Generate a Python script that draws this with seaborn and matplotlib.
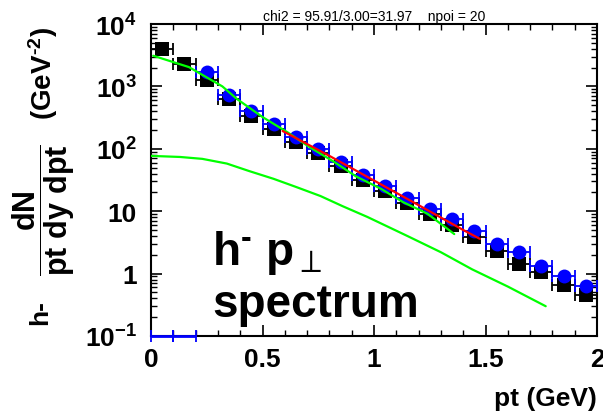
import matplotlib
matplotlib.use("Agg")
import matplotlib.pyplot as plt
import seaborn as sns
import numpy as np
import pandas as pd
from matplotlib.ticker import FixedLocator, NullFormatter, MultipleLocator

# ---- data ----
pt_black = [0.05, 0.15, 0.25, 0.35, 0.45, 0.55, 0.65, 0.75, 0.85, 0.95,
            1.05, 1.15, 1.25, 1.35, 1.45, 1.55, 1.65, 1.75, 1.85, 1.95]
y_black = [4000, 2300, 1250, 620, 340, 210, 130, 85, 53, 32,
           21, 13.5, 9.0, 6.0, 3.9, 2.3, 1.45, 1.05, 0.65, 0.45]

pt_blue = [0.25, 0.35, 0.45, 0.55, 0.65, 0.75, 0.85, 0.95, 1.05, 1.15,
           1.25, 1.35, 1.45, 1.55, 1.65, 1.75, 1.85, 1.95]
y_blue = [1700, 720, 410, 250, 155, 100, 62, 38, 25, 16,
          11, 7.5, 4.8, 3.0, 2.2, 1.3, 0.92, 0.63]

pt_blue_low = [0.05, 0.15]      # blue points at the floor of the axis
y_blue_low = [0.1, 0.1]

fit_upper_x = [0.01, 0.17, 0.32, 0.385, 0.50, 0.61, 0.71, 0.82, 0.92, 1.03, 1.13, 1.24, 1.36]
fit_upper_y = [3100, 2040, 1000, 630, 323, 186, 107, 62, 36, 23, 14, 9.1, 4.3]

fit_red_x = [0.59, 0.8, 1.0, 1.2, 1.4, 1.475]
fit_red_y = [193, 77, 31, 12.5, 5.0, 3.6]

fit_lower_x = [0.0, 0.13, 0.23, 0.34, 0.44, 0.55, 0.65, 0.76, 0.86, 0.97, 1.15, 1.30, 1.44, 1.60, 1.77]
fit_lower_y = [77, 74, 69, 58, 44, 33, 24.5, 17.5, 12, 8.1, 4.0, 2.2, 1.17, 0.62, 0.30]

x_ticks = [0, 0.5, 1, 1.5, 2]
x_ticklabels = ["0", "0.5", "1", "1.5", "2"]
y_ticks = [0.1, 1, 10, 100, 1000, 10000]
y_ticklabels = [r"$\mathbf{10^{-1}}$", "1", "10", r"$\mathbf{10^{2}}$",
                r"$\mathbf{10^{3}}$", r"$\mathbf{10^{4}}$"]

title = "chi2 = 95.91/3.00=31.97    npoi = 20"

# ---- style ----
sns.set_style("ticks")
plt.rcParams["font.family"] = ["Liberation Sans", "DejaVu Sans"]
plt.rcParams["mathtext.fontset"] = "custom"
plt.rcParams["mathtext.rm"] = "Liberation Sans:bold"
plt.rcParams["mathtext.it"] = "Liberation Sans:bold"
plt.rcParams["mathtext.bf"] = "Liberation Sans:bold"
plt.rcParams["mathtext.sf"] = "Liberation Sans:bold"
for k in ["text.color", "axes.labelcolor", "xtick.color", "ytick.color", "axes.edgecolor"]:
    plt.rcParams[k] = "black"

fig = plt.figure(figsize=(6.03, 4.14), dpi=100)
ax = fig.add_axes([151 / 603, 77 / 414, 446 / 603, 312 / 414])
ax.set_yscale("log")

df_b = pd.DataFrame({"pt": pt_black, "y": y_black})
df_u = pd.DataFrame({"pt": pt_blue, "y": y_blue})

# error bars
ax.errorbar(pt_black, y_black, xerr=0.05, yerr=np.array(y_black) * 0.04, fmt="none",
            ecolor="black", elinewidth=1.3, capsize=4, capthick=1.3, zorder=2)
ax.errorbar(pt_blue, y_blue, xerr=0.05, yerr=np.array(y_blue) * 0.04, fmt="none",
            ecolor="blue", elinewidth=1.3, capsize=4, capthick=1.3, zorder=3)
ax.errorbar(pt_blue_low, y_blue_low, xerr=0.05, fmt="none",
            ecolor="blue", elinewidth=2, capsize=4, capthick=1.3, zorder=3, clip_on=False)

sns.scatterplot(data=df_b, x="pt", y="y", marker="s", s=100, color="black",
                edgecolor="black", linewidth=0, ax=ax, zorder=2.5)
sns.scatterplot(data=df_u, x="pt", y="y", marker="o", s=100, color="blue",
                edgecolor="blue", linewidth=0, ax=ax, zorder=3.5)

sns.lineplot(x=fit_upper_x, y=fit_upper_y, color="#00ff00", linewidth=1.6, ax=ax, zorder=5)
sns.lineplot(x=fit_red_x, y=fit_red_y, color="red", linewidth=1.6, ax=ax, zorder=6)
sns.lineplot(x=fit_lower_x, y=fit_lower_y, color="#00ff00", linewidth=1.6, ax=ax, zorder=5)

ax.set_xlim(0, 2)
ax.set_ylim(0.1, 10000)

ax.xaxis.set_major_locator(FixedLocator(x_ticks))
ax.set_xticklabels(x_ticklabels)
ax.xaxis.set_minor_locator(MultipleLocator(0.1))
ax.set_yticks(y_ticks)
ax.set_yticklabels(y_ticklabels)
ax.yaxis.set_minor_locator(FixedLocator(
    [m * 10.0 ** e for e in range(-1, 4) for m in range(2, 10)]))
ax.yaxis.set_minor_formatter(NullFormatter())

ax.tick_params(which="both", direction="in", top=True, right=True, colors="black")
ax.tick_params(which="major", length=8, width=1.2)
ax.tick_params(which="minor", length=4.5, width=1.0)
ax.tick_params(axis="x", which="major", pad=8)
ax.tick_params(axis="y", which="major", pad=10)
for lab in ax.get_xticklabels() + ax.get_yticklabels():
    lab.set_fontsize(19)
    lab.set_fontweight("bold")
for sp in ax.spines.values():
    sp.set_linewidth(1.5)
    sp.set_color("black")

ax.set_title(title, fontsize=10, pad=3)
ax.set_xlabel("pt (GeV)", fontsize=19, fontweight="bold", loc="right", labelpad=11)
ax.set_ylabel("")

# y-axis label, built from three rotated pieces
fig.text(40 / 603, 1 - 313 / 414, "h-", rotation=90, ha="center", va="center",
         fontsize=19, fontweight="bold")
fig.text(44 / 603, 1 - 210 / 414, r"$\dfrac{dN}{pt\ dy\ dpt}$", rotation=90,
         ha="center", va="center", fontsize=22)
fig.text(43 / 603, 1 - 74 / 414, r"(GeV$^{\text{-2}}$)", rotation=90,
         ha="center", va="center", fontsize=20, fontweight="bold")

ax.text(0.137, 0.231, r"h$^{\text{-}}$ p$_{\perp}$", transform=ax.transAxes,
        fontsize=33, fontweight="bold", ha="left", va="baseline")
ax.text(0.137, 0.064, "spectrum", transform=ax.transAxes,
        fontsize=33, fontweight="bold", ha="left", va="baseline")

fig.savefig("out.png", dpi=100)
